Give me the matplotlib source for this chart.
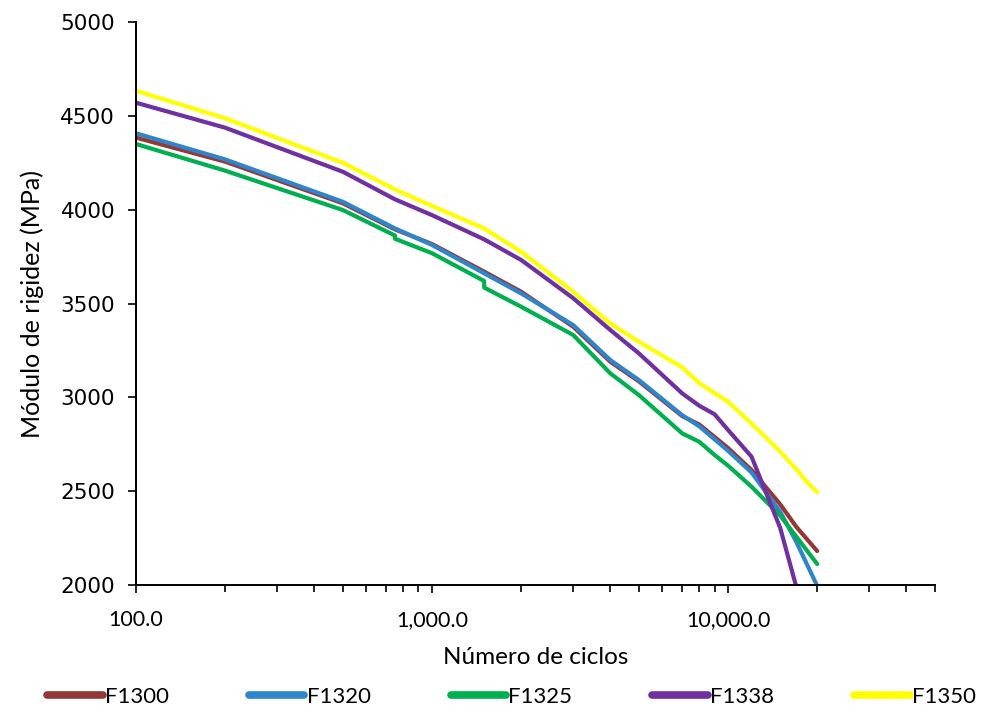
import matplotlib
matplotlib.use("Agg")
import matplotlib.pyplot as plt
from matplotlib.ticker import FuncFormatter, LogLocator, NullFormatter

# ciclos / modulo de rigidez (MPa)
x_f1300 = [100, 200, 500, 750, 1000, 1500, 2000, 3000, 4000, 5000, 7000, 8000, 10000, 12000, 15000, 17000, 20000]
y_f1300 = [4384, 4256, 4034, 3895, 3817, 3670, 3563, 3376, 3190, 3085, 2900, 2855, 2730, 2613, 2430, 2310, 2181]

x_f1320 = [100, 200, 500, 750, 1000, 1500, 2000, 3000, 4000, 5000, 7000, 8000, 10000, 12000, 15000, 17000, 20000]
y_f1320 = [4407, 4268, 4042, 3900, 3812, 3661, 3554, 3385, 3199, 3092, 2905, 2845, 2715, 2600, 2390, 2230, 1995]

x_f1325 = [100, 200, 500, 750, 750, 1000, 1500, 1500, 2000, 3000, 4000, 5000, 7000, 8000, 9000, 10000, 12000, 15000, 20000]
y_f1325 = [4350, 4208, 3998, 3862, 3845, 3768, 3620, 3585, 3483, 3332, 3128, 3012, 2808, 2763, 2693, 2636, 2524, 2370, 2112]

x_f1338 = [100, 200, 500, 750, 1000, 1500, 2000, 3000, 4000, 5000, 7000, 8000, 9000, 10000, 12000, 15000, 17000]
y_f1338 = [4570, 4437, 4202, 4055, 3971, 3842, 3732, 3528, 3359, 3234, 3021, 2955, 2910, 2826, 2684, 2304, 1990]

x_f1350 = [100, 200, 500, 750, 1000, 1500, 2000, 3000, 4000, 5000, 7000, 8000, 10000, 12000, 15000, 17500, 18000, 20000]
y_f1350 = [4634, 4487, 4250, 4108, 4020, 3900, 3776, 3563, 3394, 3296, 3160, 3075, 2977, 2860, 2711, 2595, 2568, 2494]

series = [
    ("F1300", x_f1300, y_f1300, "#953735"),
    ("F1320", x_f1320, y_f1320, "#2E85CB"),
    ("F1325", x_f1325, y_f1325, "#00B050"),
    ("F1338", x_f1338, y_f1338, "#7030A0"),
    ("F1350", x_f1350, y_f1350, "#FFFF00"),
]

fig = plt.figure(figsize=(9.89, 7.13), dpi=100)
ax = fig.add_axes([0.1375, 0.1795, 0.8079, 0.7896])

for name, xs, ys, c in series:
    ax.plot(xs, ys, color=c, lw=3, label=name, solid_capstyle="round", solid_joinstyle="round")

ax.set_xscale("log")
ax.set_xlim(100, 50000)
ax.set_ylim(2000, 5000)
ax.set_yticks([2000, 2500, 3000, 3500, 4000, 4500, 5000])

ax.xaxis.set_major_locator(LogLocator(base=10))
ax.xaxis.set_minor_locator(LogLocator(base=10, subs=range(2, 10)))
ax.xaxis.set_minor_formatter(NullFormatter())
ax.xaxis.set_major_formatter(FuncFormatter(lambda v, p: f"{v:,.1f}"))

for s in ["top", "right"]:
    ax.spines[s].set_visible(False)
for s in ["left", "bottom"]:
    ax.spines[s].set_linewidth(1.4)
    ax.spines[s].set_color("black")

ax.tick_params(axis="x", which="major", direction="out", length=6, width=1.2, pad=12,
               labelsize=15.5)
ax.tick_params(axis="x", which="minor", direction="out", length=5, width=1.2)
ax.tick_params(axis="y", direction="out", length=6, width=1.2, labelsize=15.5, pad=9)
for lab in ax.get_xticklabels():
    lab.set_family("Lato")
for lab in ax.get_yticklabels():
    lab.set_family("DejaVu Sans")

ax.set_xlabel("Número de ciclos", family="Lato", fontsize=17.5, labelpad=12)
ax.set_ylabel("Módulo de rigidez (MPa)", family="Lato", fontsize=18, labelpad=12)

leg = fig.legend(loc="center left", bbox_to_anchor=(47 / 989, 1 - 697 / 713), ncol=5,
                 frameon=False, borderpad=0, borderaxespad=0,
                 prop={"family": "Lato", "size": 16}, handlelength=2.5, handletextpad=0.1,
                 columnspacing=3.6)
for h in leg.get_lines():
    h.set_linewidth(5.5)

fig.savefig("out.png", dpi=100)
